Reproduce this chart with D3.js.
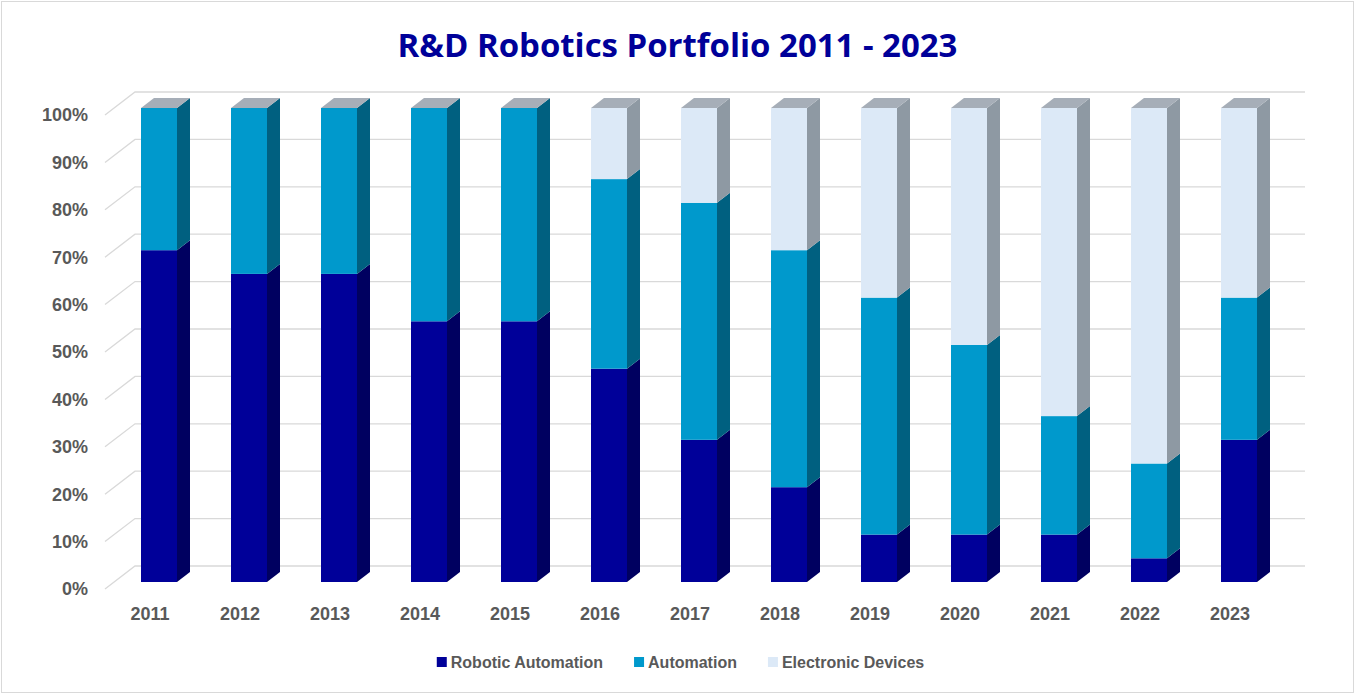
<!DOCTYPE html>
<html>
<head>
<meta charset="utf-8">
<script src="https://cdn.jsdelivr.net/npm/d3@7"></script>
<style>
  body { margin: 0; background: #fff; }
  text { font-family: "Liberation Sans", Arial, sans-serif; }
  text.title { font-family: "Open Sans", "Noto Sans", sans-serif; }
</style>
</head>
<body>
<script>
var w = 1355, h = 694;

var years = ["2011","2012","2013","2014","2015","2016","2017","2018","2019","2020","2021","2022","2023"];
var roboticAutomation = [70, 65, 65, 55, 55, 45, 30, 20, 10, 10, 10, 5, 30];
var automation = [30, 35, 35, 45, 45, 40, 50, 50, 50, 40, 25, 20, 30];
var electronicDevices = [0, 0, 0, 0, 0, 15, 20, 30, 40, 50, 65, 75, 40];
var seriesNames = ["Robotic Automation", "Automation", "Electronic Devices"];
var yTicks = [0, 10, 20, 30, 40, 50, 60, 70, 80, 90, 100];

var front = ["#000099", "#0099cc", "#dce9f7"];
var side = ["#000060", "#006080", "#8e99a3"];
var topColor = "#a6aeb8";

// depth offsets (oblique 3D look)
var wallDx = 30, wallDy = -23;
var barDx = 9, barDy = -7;
var sideDx = 13, sideDy = -10;

var svg = d3.select("body").append("svg")
    .attr("width", w)
    .attr("height", h);

svg.append("rect")
    .attr("x", 1.5).attr("y", 1.5)
    .attr("width", w - 3).attr("height", h - 3)
    .attr("fill", "#fff")
    .attr("stroke", "#d9d9d9");

var x = d3.scaleBand()
    .domain(years)
    .range([105, 1275])
    .paddingInner(0.6)
    .paddingOuter(0.3);

var y = d3.scaleLinear()
    .domain([0, 100])
    .range([589, 115]);

// gridlines on back wall with diagonal on the side wall
var grid = svg.append("g").attr("class", "grid");
grid.selectAll("polyline")
    .data(yTicks)
    .enter()
    .append("polyline")
    .attr("points", function(d){
        var yy = y(d);
        return [[105, yy], [105 + wallDx, yy + wallDy], [1275 + wallDx, yy + wallDy]].join(" ");
    })
    .attr("fill", "none")
    .attr("stroke", "#d9d9d9")
    .attr("stroke-width", 1.3);

svg.append("g").selectAll("text")
    .data(yTicks)
    .enter()
    .append("text")
    .attr("x", 88)
    .attr("y", function(d){ return y(d); })
    .attr("dy", "0.35em")
    .attr("text-anchor", "end")
    .attr("font-size", 18)
    .attr("font-weight", "bold")
    .attr("fill", "#595959")
    .text(function(d){ return d + "%"; });

// stacked data
var rows = years.map(function(yr, i){
    return { year: yr, v: [roboticAutomation[i], automation[i], electronicDevices[i]] };
});

var bars = svg.append("g").selectAll("g")
    .data(rows)
    .enter()
    .append("g");

bars.each(function(d){
    var g = d3.select(this);
    var x0 = x(d.year) + barDx;
    var x1 = x0 + x.bandwidth();
    var base = 0;
    d.v.forEach(function(val, s){
        if (val <= 0) return;
        var y0 = y(base) + barDy, y1 = y(base + val) + barDy;
        g.append("rect")
            .attr("x", x0).attr("y", y1)
            .attr("width", x1 - x0).attr("height", y0 - y1)
            .attr("fill", front[s]);
        g.append("polygon")
            .attr("points", [[x1, y0], [x1, y1], [x1 + sideDx, y1 + sideDy], [x1 + sideDx, y0 + sideDy]].join(" "))
            .attr("fill", side[s]);
        base += val;
    });
    var yt = y(base) + barDy;
    g.append("polygon")
        .attr("points", [[x0, yt], [x1, yt], [x1 + sideDx, yt + sideDy], [x0 + sideDx, yt + sideDy]].join(" "))
        .attr("fill", topColor);
});

// category labels
svg.append("g").selectAll("text")
    .data(years)
    .enter()
    .append("text")
    .attr("x", function(d){ return x(d) + x.bandwidth() / 2; })
    .attr("y", 620)
    .attr("text-anchor", "middle")
    .attr("font-size", 18)
    .attr("font-weight", "bold")
    .attr("fill", "#595959")
    .text(function(d){ return d; });

// title
var title = svg.append("text")
    .attr("class", "title")
    .attr("x", w / 2)
    .attr("y", 57)
    .attr("text-anchor", "middle")
    .attr("font-size", 30)
    .attr("font-weight", "bold")
    .attr("fill", "#000099")
    .text("R&D Robotics Portfolio 2011 - 2023");
var tl = title.node().getComputedTextLength();
title.attr("font-size", Math.min(34, 30 * 560 / tl));

// legend
var legend = svg.append("g");
var lx = 0;
seriesNames.forEach(function(name, i){
    var item = legend.append("g").attr("transform", "translate(" + lx + ",0)");
    item.append("rect")
        .attr("x", 0).attr("y", -5)
        .attr("width", 10).attr("height", 10)
        .attr("fill", front[i]);
    var t = item.append("text")
        .attr("x", 14)
        .attr("y", 0)
        .attr("dy", "0.35em")
        .attr("font-size", 16)
        .attr("font-weight", "bold")
        .attr("fill", "#595959")
        .text(name);
    lx += 14 + t.node().getComputedTextLength() + 31;
});
var lw = lx - 31;
legend.attr("transform", "translate(" + (w / 2 - lw / 2 + 3) + ",662)");
</script>
</body>
</html>
